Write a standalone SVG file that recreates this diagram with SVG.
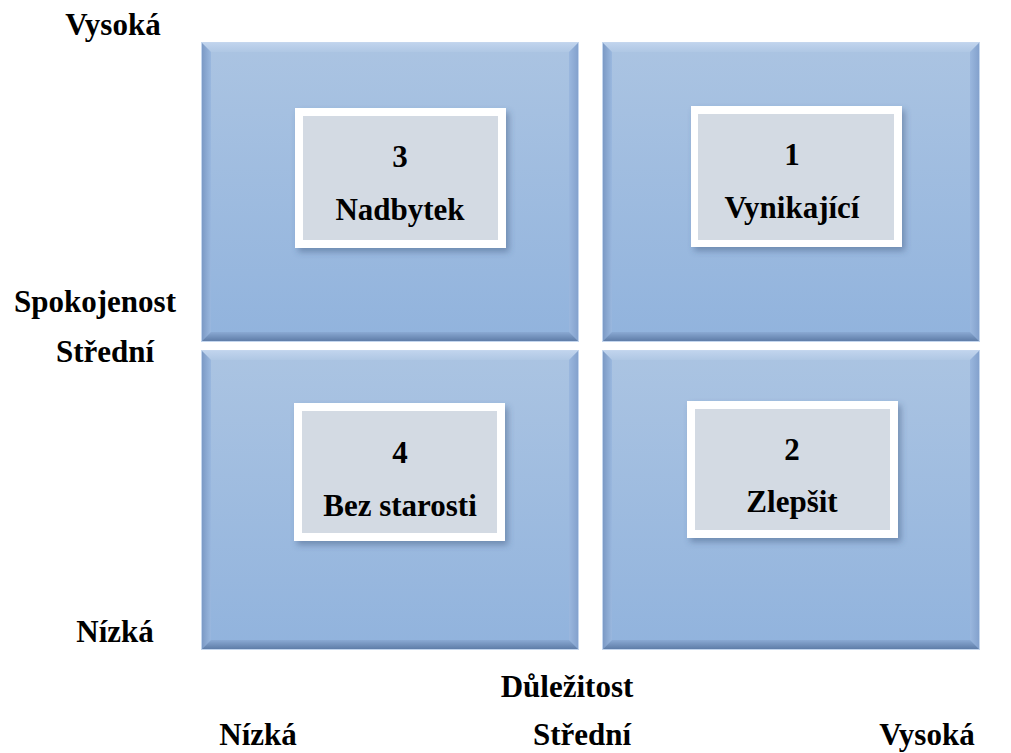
<svg xmlns="http://www.w3.org/2000/svg" xmlns:xlink="http://www.w3.org/1999/xlink" width="1011" height="753" viewBox="0 0 1011 753">
<defs>
<style>
.t{font-weight:700;font-size:31px;fill:#000;text-anchor:middle}
.outer{fill:#fff}
.inner{fill:#d3dae3}
</style>
<linearGradient id="face" x1="0" y1="0" x2="0" y2="1">
<stop offset="0" stop-color="#abc4e2"/>
<stop offset="1" stop-color="#91b3dd"/>
</linearGradient>
<linearGradient id="bevL" x1="0" y1="0" x2="1" y2="0">
<stop offset="0" stop-color="#7896c2"/>
<stop offset="1" stop-color="#9ab8df"/>
</linearGradient>
<linearGradient id="bevB" x1="0" y1="0" x2="0" y2="1">
<stop offset="0" stop-color="#8aa9d3"/>
<stop offset="1" stop-color="#5a78a3"/>
</linearGradient>
<linearGradient id="bevR" x1="0" y1="0" x2="1" y2="0">
<stop offset="0" stop-color="#9ab7de"/>
<stop offset="1" stop-color="#819fcb"/>
</linearGradient>
<linearGradient id="bevT" x1="0" y1="0" x2="0" y2="1">
<stop offset="0" stop-color="#c2d5ee"/>
<stop offset="1" stop-color="#afc7e4"/>
</linearGradient>
<filter id="sh" x="-10%" y="-10%" width="130%" height="130%">
<feDropShadow dx="3" dy="4" stdDeviation="3" flood-color="#3c5478" flood-opacity="0.45"/>
</filter>
<g id="quad">
<rect x="0" y="0" width="378" height="300" fill="url(#face)"/>
<polygon points="0,0 378,0 368,10 10,10" fill="url(#bevT)"/>
<polygon points="0,0 10,10 10,290 0,300" fill="url(#bevL)"/>
<polygon points="378,0 378,300 368,290 368,10" fill="url(#bevR)"/>
<polygon points="0,300 10,290 368,290 378,300" fill="url(#bevB)"/>
<rect x="0.5" y="0.5" width="377" height="299" fill="none" stroke="#c4d6ee" stroke-width="1"/>
</g>
</defs>
<g id="quadrants">
<use xlink:href="#quad" x="201" y="42"/>
<use xlink:href="#quad" x="602" y="42"/>
<use xlink:href="#quad" x="201" y="350"/>
<use xlink:href="#quad" x="602" y="350"/>
</g>
<g font-family="Liberation Serif, Times New Roman, serif">
<g id="box3">
<rect class="outer" x="295" y="108" width="211" height="140" filter="url(#sh)"/>
<rect class="inner" x="303" y="116" width="195" height="124"/>
<text class="t" x="400" y="167">3</text>
<text class="t" x="400" y="220">Nadbytek</text>
</g>
<g id="box1">
<rect class="outer" x="691" y="106" width="211" height="141" filter="url(#sh)"/>
<rect class="inner" x="698" y="114" width="196" height="126"/>
<text class="t" x="792" y="165">1</text>
<text class="t" x="792" y="218">Vynikající</text>
</g>
<g id="box4">
<rect class="outer" x="294" y="403" width="211" height="138" filter="url(#sh)"/>
<rect class="inner" x="302" y="411" width="195" height="122"/>
<text class="t" x="400" y="463">4</text>
<text class="t" x="400" y="516">Bez starosti</text>
</g>
<g id="box2">
<rect class="outer" x="687" y="401" width="211" height="137" filter="url(#sh)"/>
<rect class="inner" x="695" y="409" width="195" height="121"/>
<text class="t" x="792" y="460">2</text>
<text class="t" x="792" y="512">Zlepšit</text>
</g>
<g id="labels">
<text class="t" x="113" y="35">Vysoká</text>
<text class="t" x="95" y="312">Spokojenost</text>
<text class="t" x="105" y="362">Střední</text>
<text class="t" x="115" y="642">Nízká</text>
<text class="t" x="567" y="697">Důležitost</text>
<text class="t" x="258" y="745">Nízká</text>
<text class="t" x="582" y="745">Střední</text>
<text class="t" x="927" y="745">Vysoká</text>
</g>
</g>
</svg>
